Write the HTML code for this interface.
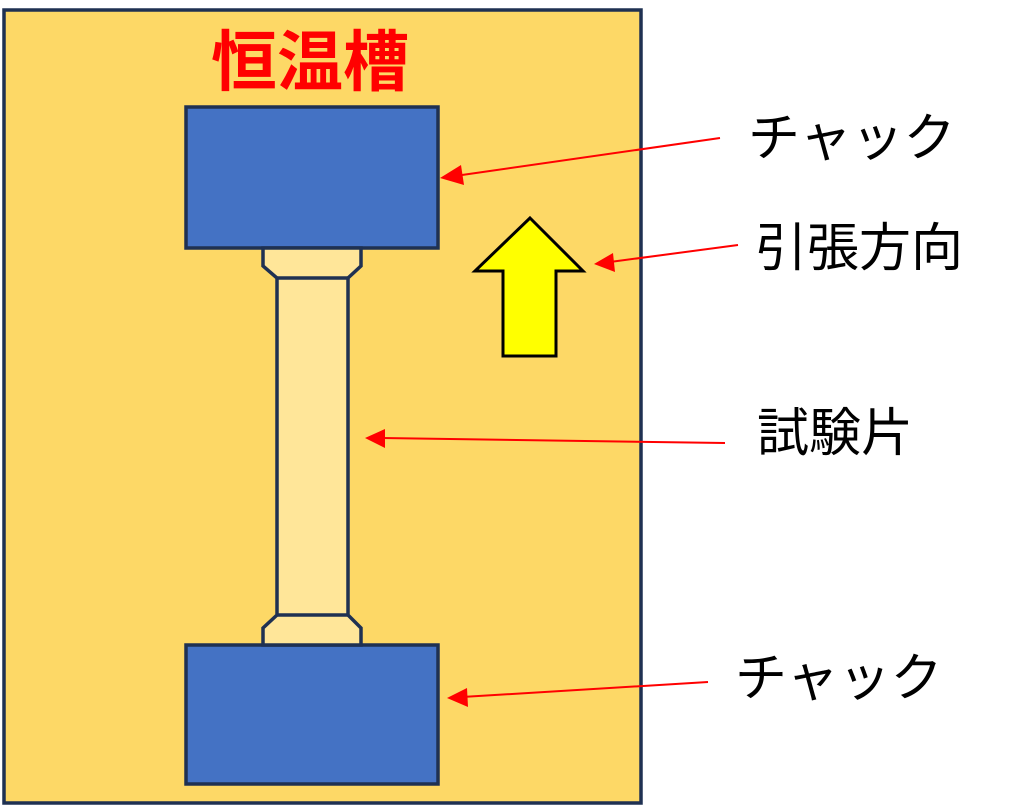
<!DOCTYPE html>
<html><head><meta charset="utf-8"><style>
html,body{margin:0;padding:0;background:#fff;}
svg{display:block;}
text{font-family:"Liberation Sans","Noto Sans CJK JP",sans-serif;}
</style></head><body>
<svg width="1024" height="805" viewBox="0 0 1024 805" xmlns="http://www.w3.org/2000/svg">
<rect x="4" y="10" width="637" height="793" fill="#FDD866" stroke="#1F3152" stroke-width="3.5"/>
<text x="310" y="85" font-size="66" font-weight="bold" fill="#FF0000" text-anchor="middle">恒温槽</text>
<rect x="186" y="107" width="252" height="141" fill="#4472C4" stroke="#1F3152" stroke-width="3.5"/>
<rect x="186" y="645" width="252" height="139" fill="#4472C4" stroke="#1F3152" stroke-width="3.5"/>
<polygon points="263,248 361,248 361,266 348,278 348,615 361,628 361,645 263,645 263,628 277,615 277,278 263,266" fill="#FFE699" stroke="#1F3152" stroke-width="3.5"/>
<line x1="277" y1="278" x2="348" y2="278" stroke="#1F3152" stroke-width="3.5"/>
<line x1="277" y1="615" x2="348" y2="615" stroke="#1F3152" stroke-width="3.5"/>
<polygon points="530,218 583,271 556,271 556,356 503,356 503,271 475,271" fill="#FFFF00" stroke="#000" stroke-width="3"/>
<g stroke="#FF0000" stroke-width="2">
<line x1="720" y1="138" x2="455" y2="176"/>
<line x1="738" y1="245" x2="610" y2="262"/>
<line x1="725" y1="443" x2="382" y2="438"/>
<line x1="708" y1="682" x2="462" y2="697"/>
</g>
<g fill="#FF0000">
<polygon points="440,178 461,165 464,185"/>
<polygon points="594,264 613,253 615,272"/>
<polygon points="365,438 385,429 385,448"/>
<polygon points="447,698 467,688 468,707"/>
</g>
<g font-size="52" fill="#000">
<text x="748" y="156">チャック</text>
<text x="755" y="266">引張方向</text>
<text x="757" y="451">試験片</text>
<text x="735" y="696">チャック</text>
</g>
</svg>
</body></html>
